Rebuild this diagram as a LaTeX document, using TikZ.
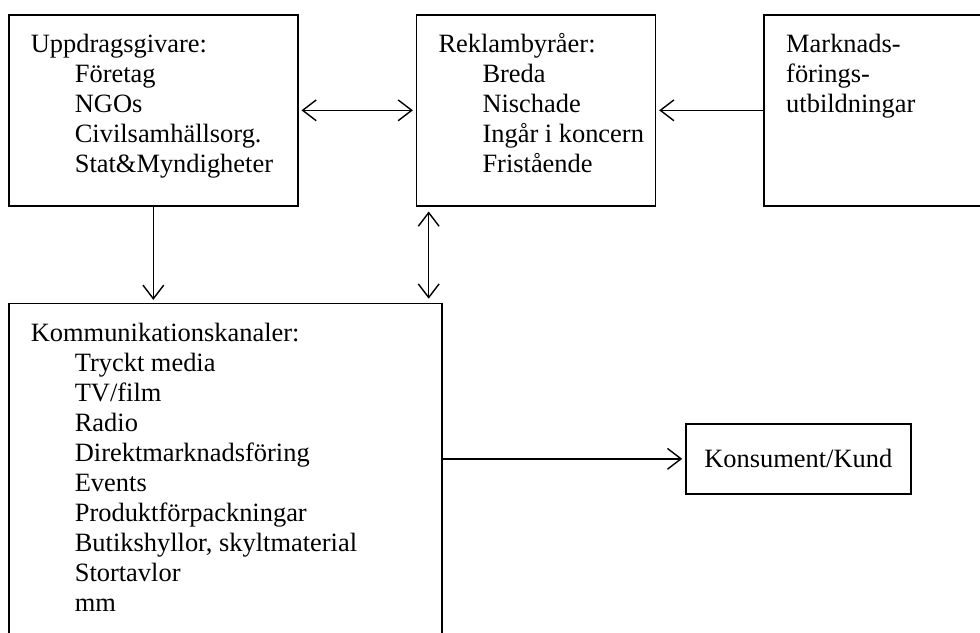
\documentclass[tikz,border=0pt]{standalone}
\usepackage{fontspec}
\setmainfont{Liberation Serif}
\usetikzlibrary{arrows.meta,positioning}

\newcommand{\boxtext}[3]{\parbox[t][#2][t]{#1}{\leftskip=0.55cm\rule{0pt}{0.95cm}#3}}
\newcommand{\indline}{\hspace*{1.1cm}}

\begin{document}
\begin{tikzpicture}[
            box/.style={draw,line width=1.2pt,inner sep=0pt,anchor=north west},
            every node/.style={font=\fontsize{18.8}{21.34}\selectfont},
            every edge/.style={draw,line width=1pt,->,shorten >=0.07cm},
            twoway/.style={<->,shorten <=0.07cm},
            >={Straight Barb[length=0.34cm,width=0.52cm]}
          ]
          \path[use as bounding box,clip] (0,0) rectangle (24.5,15.825);

          %top row
          \node[box] (upp) at (0.2,15.475) {\boxtext{7.225cm}{4.775cm}{Uppdragsgivare:\\
            \indline Företag\\ \indline NGOs\\ \indline Civilsamhällsorg.\\ \indline Stat\&Myndigheter}};
          \node[box,right=2.925cm of upp.north east,anchor=north west] (rek) {\boxtext{5.975cm}{4.775cm}{Reklambyråer:\\
            \indline Breda\\ \indline Nischade\\ \indline Ingår i koncern\\ \indline Fristående}};
          \node[box,right=2.675cm of rek.north east,anchor=north west] (mark) {\boxtext{7cm}{4.775cm}{Marknads-\\ förings-\\ utbildningar}};

          %bottom row
          \node[box,below=2.4cm of upp.south west,anchor=north west] (komm) {\boxtext{10.825cm}{9.3cm}{Kommunikationskanaler:\\
            \indline Tryckt media\\ \indline TV/film\\ \indline Radio\\ \indline Direktmarknadsföring\\
            \indline Events\\ \indline Produktförpackningar\\ \indline Butikshyllor, skyltmaterial\\
            \indline Stortavlor\\ \indline mm}};
          \node[box,minimum width=5.625cm,minimum height=1.75cm] (kons) at (17.125,5.25) {Konsument/Kund};

          %arrows
          \path
          (upp) edge[twoway] (rek)
          (mark) edge (rek)
          (upp) edge (upp |- komm.north)
          ([xshift=0.325cm]rek.south west) edge[twoway,shorten <=0.12cm,shorten >=0.1cm] ([xshift=0.325cm]rek.south west |- komm.north)
          (kons.west -| komm.east) edge (kons)
          ;

\end{tikzpicture}
\end{document}
